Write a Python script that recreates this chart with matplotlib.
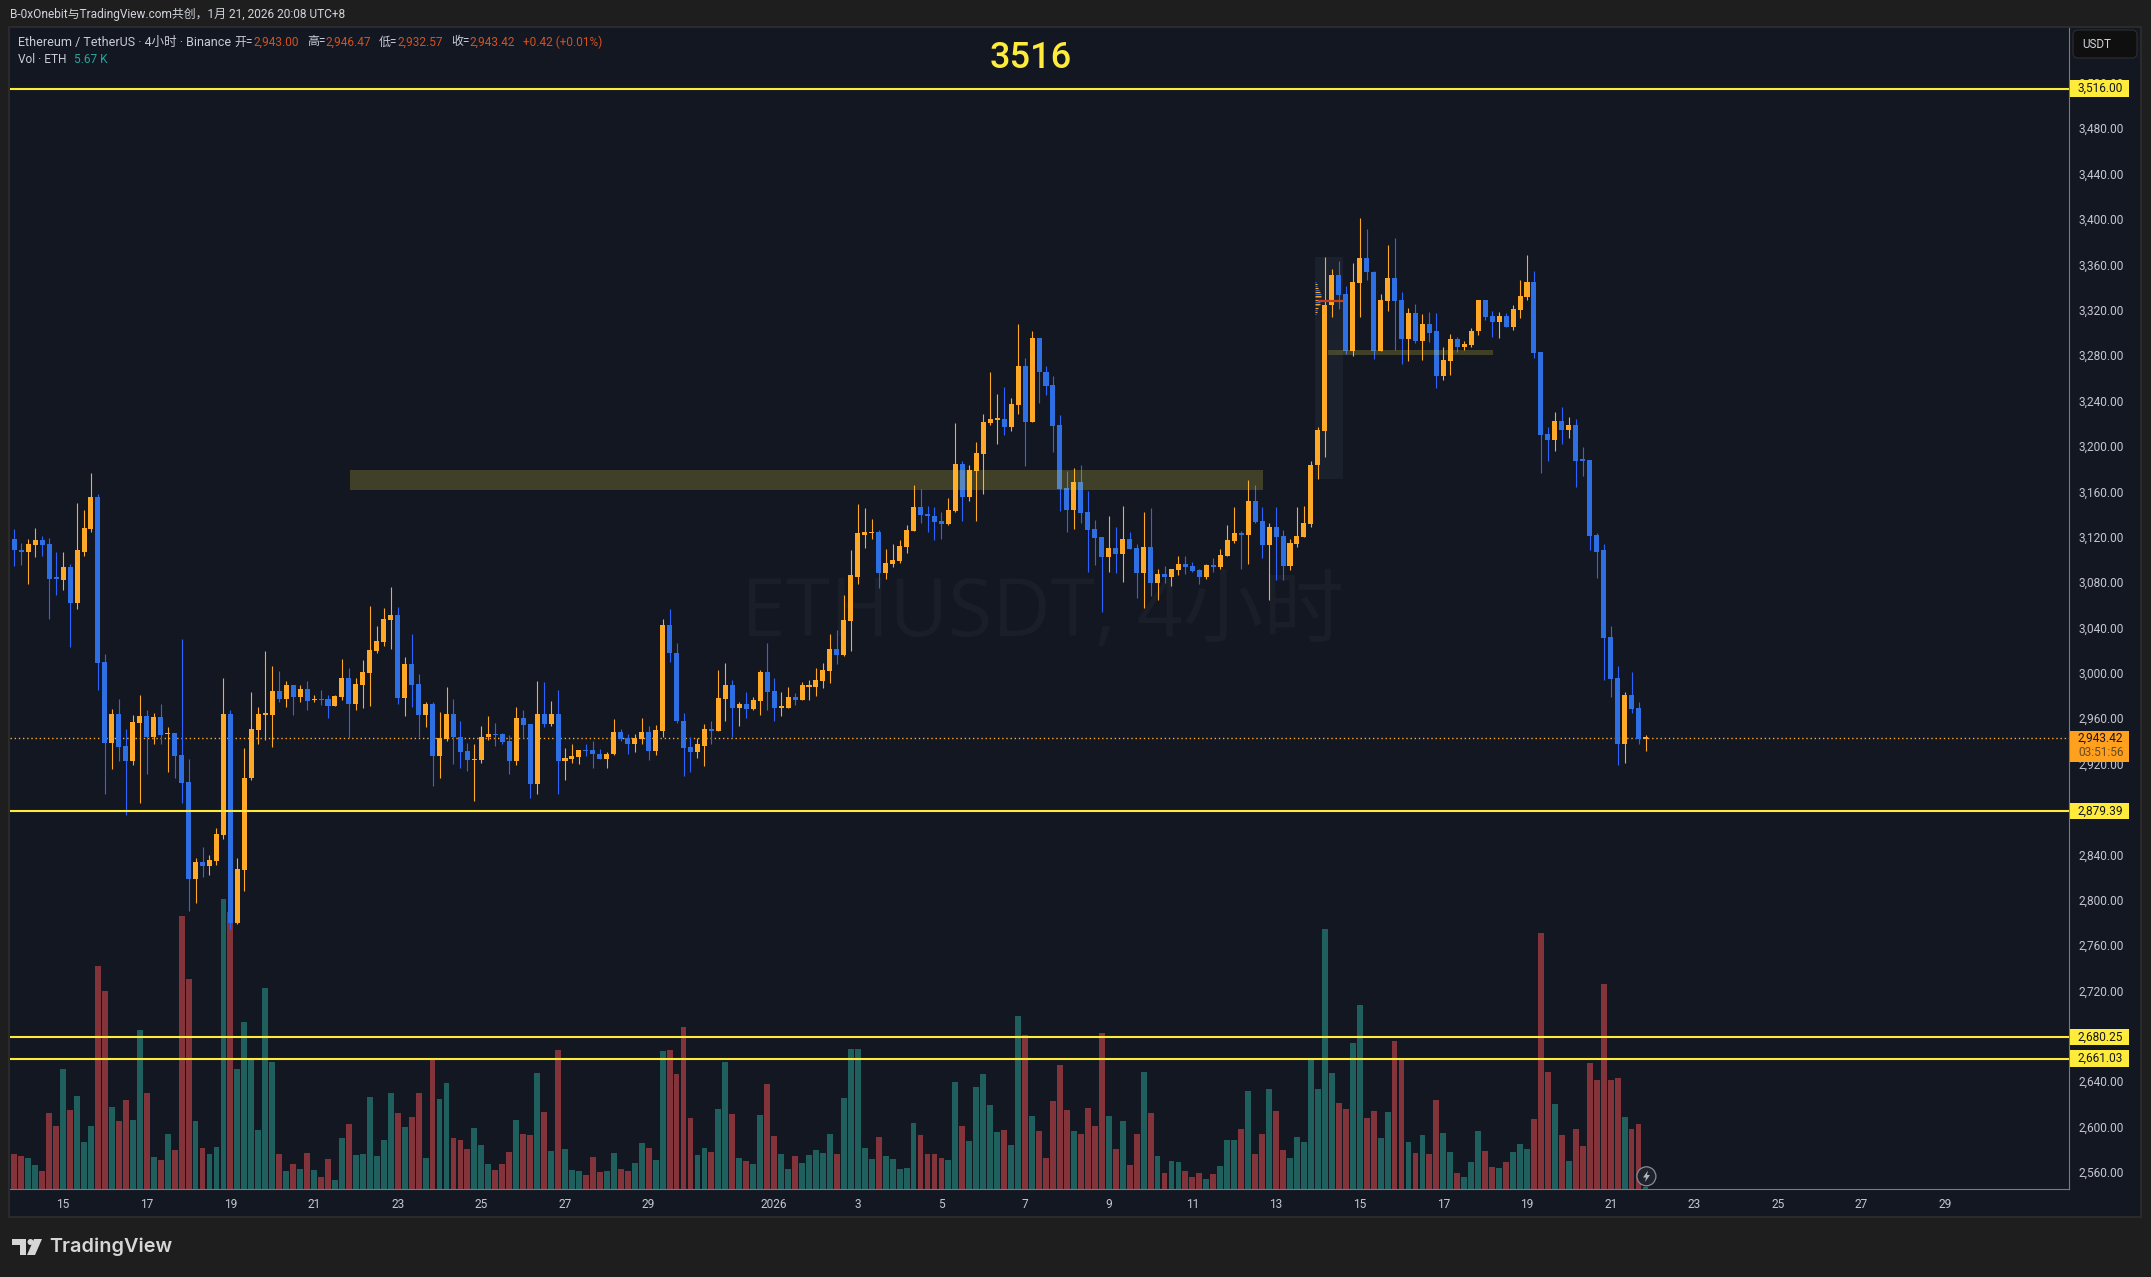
import numpy as np
import matplotlib
matplotlib.use("Agg")
import matplotlib.pyplot as plt
from matplotlib.patches import Rectangle, FancyBboxPatch, Polygon, Circle
from matplotlib.ticker import StrMethodFormatter
from matplotlib.transforms import ScaledTranslation

plt.rcParams['font.family'] = ['Roboto', 'Noto Sans CJK SC', 'DejaVu Sans']

# 4h candles, 20 per row
opens = [
    3119, 3109, 3108, 3114, 3118, 3115, 3085, 3083, 3094, 3063, 3108, 3128, 3156, 3011, 2939, 2965, 2937, 2923, 2957, 2963,
    2945, 2962, 2947, 2948, 2929, 2905, 2819, 2834, 2831, 2835, 2858, 2965, 2781, 2827, 2908, 2951, 2964, 2964, 2985, 2978,
    2990, 2980, 2987, 2977, 2978, 2978, 2972, 2980, 2997, 2974, 2990, 3001, 3020, 3028, 3048, 3052, 2979, 3009, 2991, 2964,
    2974, 2928, 2943, 2965, 2945, 2932, 2924, 2924, 2945, 2947, 2947, 2941, 2923, 2961, 2956, 2903, 2965, 2956, 2965, 2923,
    2925, 2927, 2933, 2933, 2930, 2925, 2930, 2949, 2944, 2938, 2943, 2949, 2932, 2950, 3043, 3019, 2959, 2936, 2931, 2937,
    2952, 2950, 2978, 2990, 2970, 2974, 2969, 2976, 3002, 2985, 2970, 2970, 2980, 2977, 2989, 2989, 2994, 3003, 3022, 3017,
    3047, 3086, 3123, 3124, 3125, 3089, 3097, 3100, 3112, 3126, 3147, 3141, 3139, 3135, 3132, 3144, 3185, 3156, 3179, 3194,
    3221, 3224, 3225, 3218, 3237, 3272, 3222, 3296, 3266, 3255, 3220, 3164, 3145, 3169, 3143, 3128, 3121, 3103, 3111, 3106,
    3119, 3111, 3089, 3112, 3080, 3088, 3086, 3092, 3097, 3095, 3092, 3086, 3096, 3094, 3104, 3117, 3124, 3123, 3153, 3135,
    3114, 3130, 3122, 3095, 3115, 3121, 3132, 3184, 3214, 3325, 3352, 3335, 3285, 3345, 3367, 3354, 3285, 3329, 3349, 3330,
    3295, 3318, 3294, 3309, 3302, 3263, 3276, 3295, 3288, 3290, 3302, 3330, 3316, 3310, 3316, 3306, 3321, 3332, 3346, 3284,
    3212, 3206, 3223, 3215, 3220, 3190, 3189, 3123, 3109, 3033, 2997, 2938, 2982, 2970, 2943.00,
]
closes = [
    3109, 3108, 3115, 3118, 3114, 3084, 3084, 3094, 3063, 3109, 3129, 3156, 3010, 2939, 2965, 2936, 2923, 2958, 2963, 2945,
    2962, 2946, 2948, 2928, 2904, 2819, 2834, 2831, 2836, 2859, 2965, 2781, 2828, 2908, 2952, 2965, 2965, 2985, 2978, 2990,
    2980, 2987, 2976, 2978, 2977, 2972, 2981, 2997, 2974, 2991, 3002, 3021, 3029, 3049, 3052, 2979, 3009, 2990, 2964, 2974,
    2928, 2944, 2965, 2945, 2931, 2924, 2925, 2945, 2947, 2946, 2940, 2923, 2961, 2955, 2903, 2965, 2956, 2965, 2923, 2926,
    2928, 2933, 2932, 2930, 2925, 2930, 2949, 2943, 2938, 2944, 2949, 2932, 2951, 3043, 3019, 2959, 2935, 2931, 2938, 2952,
    2950, 2979, 2990, 2970, 2974, 2969, 2977, 3002, 2984, 2970, 2971, 2980, 2977, 2990, 2990, 2995, 3004, 3022, 3017, 3048,
    3087, 3124, 3125, 3125, 3089, 3098, 3101, 3113, 3127, 3147, 3140, 3139, 3134, 3132, 3145, 3185, 3156, 3180, 3195, 3222,
    3225, 3225, 3218, 3238, 3272, 3222, 3296, 3266, 3254, 3219, 3163, 3145, 3169, 3142, 3127, 3120, 3103, 3111, 3106, 3119,
    3110, 3089, 3112, 3080, 3088, 3086, 3093, 3097, 3094, 3091, 3086, 3096, 3094, 3105, 3118, 3124, 3123, 3153, 3134, 3114,
    3130, 3121, 3095, 3116, 3122, 3133, 3184, 3215, 3325, 3352, 3334, 3285, 3346, 3367, 3354, 3285, 3330, 3349, 3329, 3295,
    3318, 3294, 3309, 3301, 3263, 3277, 3295, 3288, 3291, 3302, 3330, 3315, 3310, 3316, 3306, 3322, 3333, 3346, 3283, 3211,
    3206, 3223, 3215, 3220, 3188, 3188, 3122, 3108, 3032, 2996, 2938, 2982, 2969, 2943, 2943.42,
]
highs = [
    3128, 3116, 3119, 3129, 3122, 3120, 3108, 3108, 3097, 3151, 3145, 3177, 3159, 3018, 2969, 2978, 2952, 2964, 2982, 2968,
    2966, 2974, 2953, 2948, 3031, 2925, 2838, 2848, 2841, 2864, 2997, 2968, 2838, 2935, 2984, 2971, 3020, 3007, 3003, 2994,
    2990, 2990, 2994, 2982, 2986, 2982, 2982, 3013, 3005, 2997, 3012, 3060, 3042, 3058, 3077, 3059, 3015, 3035, 3000, 2975,
    2975, 2967, 2989, 2978, 2959, 2939, 2938, 2954, 2963, 2957, 2948, 2946, 2971, 2968, 2956, 2994, 2993, 2976, 2986, 2935,
    2938, 2933, 2938, 2941, 2934, 2931, 2960, 2952, 2947, 2947, 2961, 2954, 2955, 3049, 3057, 3027, 2966, 2945, 2944, 2956,
    2959, 3004, 3010, 2995, 2975, 2984, 2980, 3004, 3027, 2997, 2984, 2989, 2983, 2993, 2995, 3005, 3010, 3035, 3039, 3070,
    3109, 3150, 3146, 3137, 3127, 3110, 3115, 3118, 3131, 3167, 3163, 3148, 3147, 3143, 3155, 3221, 3188, 3184, 3205, 3229,
    3266, 3247, 3253, 3243, 3309, 3279, 3302, 3296, 3272, 3263, 3228, 3179, 3182, 3184, 3161, 3136, 3121, 3139, 3130, 3148,
    3125, 3115, 3143, 3146, 3093, 3095, 3093, 3104, 3104, 3099, 3093, 3097, 3102, 3110, 3131, 3147, 3126, 3171, 3167, 3147,
    3133, 3147, 3127, 3119, 3147, 3148, 3188, 3218, 3368, 3357, 3364, 3342, 3362, 3402, 3392, 3355, 3335, 3378, 3384, 3337,
    3323, 3326, 3317, 3319, 3318, 3288, 3300, 3297, 3294, 3305, 3330, 3330, 3320, 3319, 3318, 3325, 3347, 3369, 3355, 3284,
    3218, 3231, 3235, 3227, 3225, 3200, 3189, 3124, 3115, 3042, 3007, 2984, 3002, 2975, 2946.47,
]
lows = [
    3095, 3096, 3079, 3103, 3104, 3049, 3070, 3074, 3024, 3057, 3104, 3125, 2986, 2894, 2916, 2923, 2876, 2920, 2886, 2912,
    2938, 2938, 2914, 2908, 2886, 2791, 2798, 2821, 2823, 2832, 2855, 2775, 2780, 2809, 2907, 2938, 2942, 2936, 2975, 2971,
    2964, 2975, 2968, 2975, 2973, 2961, 2972, 2977, 2944, 2968, 2970, 2972, 3019, 3025, 3022, 2974, 2963, 2971, 2945, 2953,
    2901, 2908, 2941, 2921, 2917, 2915, 2888, 2922, 2942, 2937, 2938, 2912, 2920, 2944, 2891, 2894, 2953, 2954, 2894, 2907,
    2922, 2921, 2928, 2917, 2925, 2917, 2929, 2941, 2930, 2931, 2938, 2924, 2929, 2945, 3011, 2957, 2910, 2914, 2926, 2919,
    2938, 2950, 2959, 2945, 2954, 2961, 2968, 2964, 2968, 2959, 2963, 2970, 2973, 2977, 2977, 2981, 2988, 2992, 3009, 3016,
    3020, 3079, 3111, 3119, 3076, 3084, 3094, 3098, 3107, 3126, 3133, 3125, 3118, 3119, 3131, 3143, 3135, 3153, 3135, 3159,
    3220, 3203, 3211, 3214, 3229, 3183, 3222, 3239, 3246, 3196, 3144, 3125, 3128, 3133, 3090, 3096, 3055, 3090, 3089, 3081,
    3110, 3067, 3058, 3069, 3065, 3080, 3078, 3087, 3088, 3090, 3079, 3084, 3090, 3093, 3104, 3116, 3093, 3097, 3133, 3102,
    3065, 3083, 3083, 3092, 3112, 3121, 3130, 3172, 3191, 3315, 3322, 3282, 3280, 3315, 3347, 3278, 3285, 3320, 3286, 3273,
    3276, 3292, 3277, 3293, 3252, 3259, 3264, 3284, 3286, 3288, 3299, 3312, 3297, 3296, 3306, 3303, 3314, 3330, 3279, 3177,
    3188, 3197, 3203, 3208, 3165, 3175, 3109, 3085, 2995, 2980, 2920, 2922, 2966, 2938, 2932.57,
]
# volume in K ETH
volumes = [
    106, 100, 94, 73, 55, 229, 190, 361, 238, 280, 142, 190, 670, 595, 247, 205, 268, 208, 478, 289,
    97, 88, 166, 118, 820, 631, 205, 124, 106, 127, 871, 832, 361, 502, 388, 178, 604, 382, 106, 55,
    76, 61, 109, 58, 37, 91, 28, 154, 196, 103, 106, 277, 100, 148, 289, 229, 187, 217, 289, 94,
    391, 271, 319, 154, 148, 121, 184, 133, 76, 58, 76, 112, 208, 166, 163, 349, 232, 115, 418, 121,
    58, 55, 43, 97, 52, 55, 109, 61, 55, 79, 139, 124, 88, 415, 418, 346, 487, 214, 103, 124,
    112, 241, 382, 226, 94, 85, 76, 223, 316, 160, 106, 61, 100, 79, 103, 118, 109, 166, 106, 274,
    421, 421, 124, 91, 157, 100, 91, 61, 64, 199, 163, 106, 106, 94, 88, 322, 190, 145, 307, 346,
    253, 172, 178, 133, 520, 463, 220, 175, 94, 265, 373, 238, 175, 166, 244, 190, 469, 220, 121, 205,
    73, 166, 352, 229, 100, 49, 85, 82, 55, 37, 49, 31, 46, 70, 148, 148, 181, 295, 106, 166,
    301, 235, 118, 94, 157, 142, 388, 301, 781, 349, 259, 241, 439, 553, 214, 235, 154, 232, 445, 388,
    142, 109, 163, 106, 268, 169, 112, 49, 37, 82, 175, 115, 67, 64, 82, 112, 136, 121, 211, 769,
    352, 256, 163, 85, 181, 130, 379, 328, 616, 328, 334, 217, 181, 196, 5.67,
]

level_prices = [3516.00, 2879.39, 2680.25, 2661.03]
last_price = 2943.42
price_ticks = list(range(2560, 3521, 40))
# Dec 15..29 every two days, then Jan 1..29
date_ticks = list(range(7, 92, 12)) + list(range(109, 278, 12))
date_labels = ['15', '17', '19', '21', '23', '25', '27', '29', '2026', '3', '5', '7', '9',
               '11', '13', '15', '17', '19', '21', '23', '25', '27', '29']

# supply/demand boxes: start bar, end bar, low, high
zones = [(48.2, 179.1, 3162.3, 3179.9), (188.5, 212.1, 3281.3, 3285.7)]

# small volume profile at the top of the breakout
profile_prices = [3346, 3344, 3342, 3340, 3339, 3337, 3335, 3333, 3332, 3330, 3328, 3326, 3325, 3323, 3321, 3319, 3317]
profile_widths = [0.14, 0.29, 0.29, 0.43, 0.57, 0.72, 0.86, 0.86, 0.86, 0.86, 0.72, 0.72, 0.57, 0.43, 0.29, 0.29, 0.14]

BG = '#131722'
PAGE = '#1e1e1e'
UP = '#ffa726'
DOWN = '#2e70e4'
DOWN_WICK = '#2962ff'
YELLOW = '#ffeb3b'
GRID_TEXT = '#c4c7cf'
W, H = 2151, 1277

opens = np.array(opens)
closes = np.array(closes)
highs = np.array(highs)
lows = np.array(lows)
x = np.arange(len(opens))
up = closes >= opens

fig = plt.figure(figsize=(W / 100, H / 100), dpi=100, facecolor=PAGE)


def box(l, t, r, b):
    return [l / W, 1 - b / H, (r - l) / W, (b - t) / H]


# page background and panel frame
back = fig.add_axes([0, 0, 1, 1], zorder=0)
back.set_xlim(0, W)
back.set_ylim(H, 0)
back.axis('off')
back.add_patch(Rectangle((8, 26), 2134, 1192, fc='#2a2a2c', ec='none'))
back.add_patch(Rectangle((10, 28), 2130, 1188, fc=BG, ec='none'))

plot_box = box(10, 28, 2069, 1189.3)
xlim = (-0.617, 294.75)
ylim = (2545.9, 3569.5)

# volume sits behind the candles
ax_vol = fig.add_axes(plot_box, zorder=1)
ax_vol.patch.set_visible(False)
ax_vol.axis('off')
ax_vol.set_xlim(*xlim)
ax_vol.set_ylim(0, 3484)
ax_vol.bar(x, volumes, width=0.84, color=np.where(up, '#1f5f5e', '#83333a'), linewidth=0)

ax = fig.add_axes(plot_box, zorder=2)
ax.patch.set_visible(False)
ax.set_xlim(*xlim)
ax.set_ylim(*ylim)
for s in ['top', 'left']:
    ax.spines[s].set_visible(False)
for s in ['right', 'bottom']:
    ax.spines[s].set_color('#787b86')
    ax.spines[s].set_linewidth(0.8)

ax.axhline(last_price, color=UP, lw=1.0, linestyle=(0, (1, 2)), zorder=1)

# faint watermark
ax.text(147.5, 3052, 'ETHUSDT, 4小时', color='#191e29', fontsize=58, ha='center', va='center',
        family=['Open Sans', 'Noto Sans CJK SC'], zorder=0.5)

ax.add_patch(Rectangle((186.6, 3171.9), 4.0, 195.7, fc='#1a202c', ec='none', zorder=1.5))

ax.vlines(x[up], lows[up], highs[up], color=UP, lw=0.8, zorder=2)
ax.vlines(x[~up], lows[~up], highs[~up], color=DOWN_WICK, lw=0.8, zorder=2)
heights = np.maximum(np.abs(closes - opens), 1.5)
bottoms = np.minimum(opens, closes)
ax.bar(x, heights, bottom=bottoms, width=0.72, color=np.where(up, UP, DOWN), linewidth=0, zorder=3)

for n, (p, w) in enumerate(zip(profile_prices, profile_widths)):
    ax.hlines(p, 186.6, 186.6 + w, color=UP if n % 2 else DOWN, lw=0.8, zorder=3.5)
ax.hlines(3328.9, 187.0, 190.6, color='#c8401a', lw=1.6, zorder=3.6)

for x0, x1, p0, p1 in zones:
    ax.add_patch(Rectangle((x0, p0), x1 - x0, p1 - p0, fc='#f5e03d', ec='none', alpha=0.2, zorder=4))

for p in level_prices:
    ax.axhline(p, color=YELLOW, lw=1.5, zorder=5)

ax.set_xticks(date_ticks)
ax.set_xticklabels(date_labels)
ax.yaxis.tick_right()
ax.set_yticks(price_ticks)
ax.yaxis.set_major_formatter(StrMethodFormatter('{x:,.2f}'))
ax.tick_params(axis='y', length=0, pad=6.5, labelsize=8.6, labelcolor=GRID_TEXT)
ax.tick_params(axis='x', length=0, pad=6.0, labelsize=8.6, labelcolor=GRID_TEXT)
# scale labels sit a little above their price
nudge = ScaledTranslation(0, 1.3 / 100, fig.dpi_scale_trans)
for lab in ax.get_yticklabels():
    lab.set_transform(lab.get_transform() + nudge)

# price tags on the scale
ax_price = fig.add_axes(box(2069, 28, 2140, 1189.3), zorder=3)
ax_price.patch.set_visible(False)
ax_price.axis('off')
ax_price.set_xlim(0, 71)
ax_price.set_ylim(*ylim)
for p in level_prices:
    ax_price.add_patch(Rectangle((1, p - 7.3), 59, 14.6, fc=YELLOW, ec='none'))
    ax_price.text(9, p, f'{p:,.2f}', color='#131722', fontsize=8.6, va='center', ha='left')
ax_price.add_patch(Rectangle((1, 2922.2), 59, 27.3, fc='#ffa01e', ec='none'))
ax_price.text(9, last_price, f'{last_price:,.2f}', color='#131722', fontsize=8.6, va='center', ha='left')
ax_price.text(9, 2931.3, '03:51:56', color='#6b4a1e', fontsize=8.6, va='center', ha='left')

# header, legend, button, logo in pixel coordinates
front = fig.add_axes([0, 0, 1, 1], zorder=5)
front.patch.set_visible(False)
front.set_xlim(0, W)
front.set_ylim(H, 0)
front.axis('off')

front.text(10, 14.5, 'B-0xOnebit与TradingView.com共创，1月 21, 2026 20:08 UTC+8', color='#d1d4dc',
           fontsize=8.6, va='center')

LEGEND = '#c9ccd4'
VALUE = '#d4511e'
front.text(18, 42, 'Ethereum / TetherUS · 4小时 · Binance', color=LEGEND, fontsize=9.0, va='center')
for lx, txt, col in [(234, '开=', LEGEND), (253, '2,943.00', VALUE), (307, '高=', LEGEND), (325, '2,946.47', VALUE),
                     (379, '低=', LEGEND), (397, '2,932.57', VALUE), (451, '收=', LEGEND), (470, '2,943.42', VALUE),
                     (523, '+0.42 (+0.01%)', VALUE)]:
    front.text(lx, 42, txt, color=col, fontsize=8.6, va='center')
front.text(18, 59.5, 'Vol · ETH', color=LEGEND, fontsize=8.6, va='center')
front.text(74, 59.5, '5.67 K', color='#26a69a', fontsize=8.6, va='center')

front.text(1031, 58, '3516', color=YELLOW, fontsize=26, ha='center', va='center', weight='medium')

front.add_patch(FancyBboxPatch((2076, 33), 58, 22, boxstyle='round,pad=3,rounding_size=5',
                               fc='#0f0f0f', ec='#2e2e30', lw=0.8))
front.text(2082, 44.5, 'USDT', color='#d1d4dc', fontsize=8.4, va='center')

# lightning marker near the time scale
front.add_patch(Circle((1646.4, 1176.3), 9.5, fc='#1e222d', ec='#8a8d95', lw=0.9))
front.add_patch(Polygon([(1648, 1170.5), (1643, 1177.5), (1646, 1177.5), (1645, 1182),
                         (1650, 1175), (1647, 1175)], fc='#b2b5be', ec='none'))

# TradingView logo
LOGO = '#d6d6d6'
front.add_patch(Rectangle((12, 1239), 14, 6, fc=LOGO, ec='none'))
front.add_patch(Rectangle((20, 1239), 6, 16, fc=LOGO, ec='none'))
front.add_patch(Circle((30.5, 1242), 3, fc=LOGO, ec='none'))
front.add_patch(Polygon([(34, 1239), (42, 1239), (35, 1255), (27, 1255)], fc=LOGO, ec='none'))
front.text(49, 1247, 'TradingView', color=LOGO, fontsize=14.3, va='center', family=['Inter', 'Roboto'], weight='semibold')

fig.savefig('out.png', dpi=100, facecolor=PAGE)
